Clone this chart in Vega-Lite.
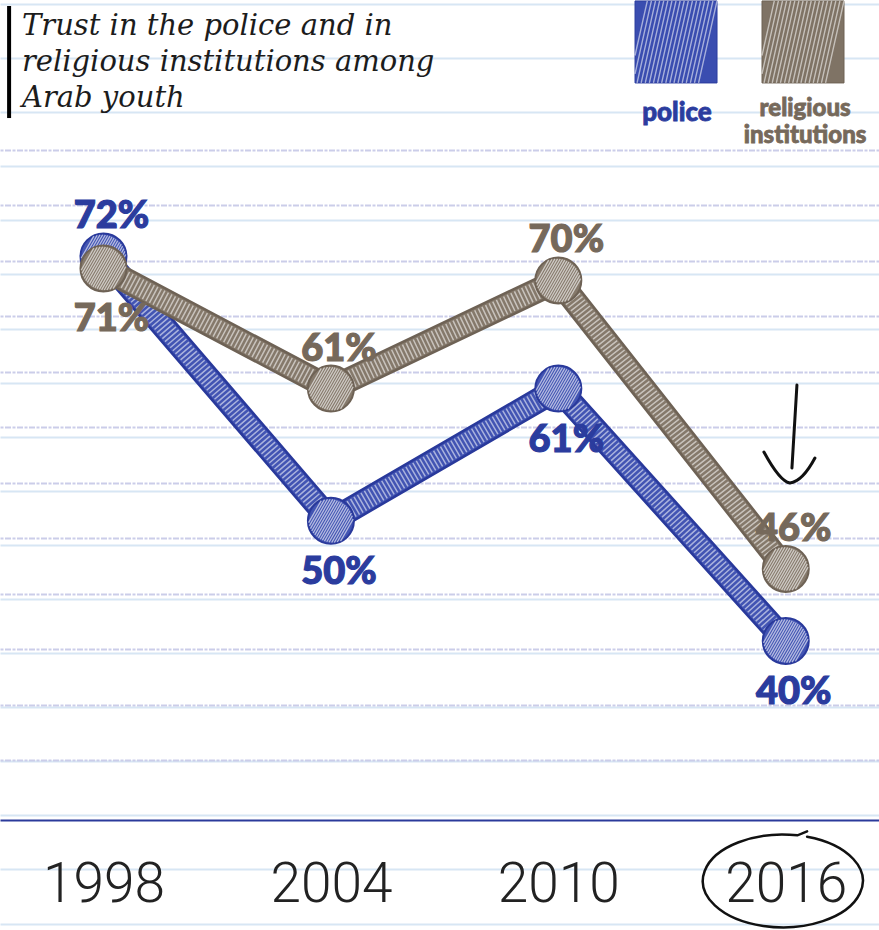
{
  "$schema": "https://vega.github.io/schema/vega-lite/v6.json",
  "width": 879,
  "height": 930,
  "autosize": {"type": "none"},
  "padding": 0,
  "background": "#ffffff",
  "config": {"view": {"stroke": null}},
  "datasets": {
    "trust": [
      {"year": 1998, "series": "police", "value": 72, "label": "72%"},
      {"year": 2004, "series": "police", "value": 50, "label": "50%"},
      {"year": 2010, "series": "police", "value": 61, "label": "61%"},
      {"year": 2016, "series": "police", "value": 40, "label": "40%"},
      {"year": 1998, "series": "religious institutions", "value": 71, "label": "71%"},
      {"year": 2004, "series": "religious institutions", "value": 61, "label": "61%"},
      {"year": 2010, "series": "religious institutions", "value": 70, "label": "70%"},
      {"year": 2016, "series": "religious institutions", "value": 46, "label": "46%"}
    ]
  },
  "data": {"name": "trust"},
  "resolve": {"axis": {"y": "independent"}},
  "layer": [
    {
      "transform": [{"filter": "datum.series == 'police'"}],
      "mark": {"type": "line", "color": "#29399b", "strokeWidth": 25, "strokeJoin": "round", "strokeCap": "round"},
      "encoding": {
        "x": {"field": "year", "type": "quantitative",
          "scale": {"domain": [1995.27, 2018.46], "nice": false, "zero": false},
          "axis": {"orient": "bottom", "offset": -110, "values": [1998, 2004, 2010, 2016], "format": "d", "grid": false, "ticks": false,
            "domain": true, "domainColor": "#2b3a9b", "domainWidth": 2,
            "labelFont": "Roboto", "labelFontSize": 55, "labelFontWeight": 300, "labelColor": "#222222", "labelPadding": 38,
            "labelFlush": false, "labelOverlap": false, "labelBound": false, "title": null}},
        "y": {"field": "value", "type": "quantitative",
          "scale": {"domain": [15.96, 93.33], "nice": false, "zero": false},
          "axis": {"orient": "left", "values": [93, 88.5, 84, 79.5, 75, 70.5, 66, 61.5, 57, 52.5, 48, 43.5, 39, 34.5, 30, 25.5, 21, 16.5],
            "grid": true, "gridColor": "#d7e6f4", "gridWidth": 2, "domain": false, "ticks": false, "labels": false, "title": null}}
      }
    },
    {
      "transform": [{"filter": "datum.series == 'police'"}],
      "mark": {"type": "line", "color": "#4254b3", "strokeWidth": 20, "strokeJoin": "round", "strokeCap": "round"},
      "encoding": {
        "x": {"field": "year", "type": "quantitative"},
        "y": {"field": "value", "type": "quantitative",
          "axis": {"orient": "right", "values": [80.85, 76.24, 71.62, 67.0, 62.39, 57.77, 53.15, 48.54, 43.92, 39.3, 34.68, 30.07],
            "grid": true, "gridColor": "#cbcde9", "gridWidth": 2, "gridDash": [3, 1.5, 6, 1.5], "domain": false, "ticks": false, "labels": false, "title": null}}
      }
    },
    {
      "transform": [{"filter": "datum.series == 'police'"}],
      "mark": {"type": "line", "color": "#ffffff", "strokeWidth": 18, "strokeDash": [1.5, 2.5], "opacity": 0.55, "strokeJoin": "round"},
      "encoding": {
        "x": {"field": "year", "type": "quantitative"},
        "y": {"field": "value", "type": "quantitative", "axis": null}
      }
    },
    {
      "transform": [{"filter": "datum.series == 'police'"}],
      "mark": {"type": "point", "shape": "circle", "size": 2116, "filled": true, "fill": "#4254b3", "stroke": "#29399b", "strokeWidth": 2, "opacity": 1},
      "encoding": {
        "x": {"field": "year", "type": "quantitative"},
        "y": {"field": "value", "type": "quantitative", "axis": null}
      }
    },
    {
      "transform": [{"filter": "datum.series == 'police'"}],
      "mark": {"type": "point", "shape": "M-0.97,0.08L-0.42,-0.88M-0.935,0.219L-0.277,-0.919M-0.89,0.34L-0.15,-0.94M-0.83,0.44L-0.035,-0.94M-0.77,0.53L0.08,-0.93M-0.7,0.61L0.18,-0.91M-0.62,0.68L0.28,-0.88M-0.54,0.74L0.37,-0.84M-0.46,0.8L0.46,-0.8M-0.37,0.84L0.54,-0.74M-0.28,0.88L0.62,-0.68M-0.18,0.91L0.7,-0.61M-0.08,0.93L0.77,-0.53M0.035,0.94L0.83,-0.44M0.15,0.94L0.89,-0.34M0.277,0.919L0.935,-0.219M0.42,0.88L0.97,-0.08",
        "size": 2116, "filled": false, "stroke": "#ffffff", "strokeWidth": 1.3, "opacity": 0.6},
      "encoding": {
        "x": {"field": "year", "type": "quantitative"},
        "y": {"field": "value", "type": "quantitative", "axis": null}
      }
    },
    {
      "transform": [{"filter": "datum.series == 'religious institutions'"}],
      "mark": {"type": "line", "color": "#6e6255", "strokeWidth": 25, "strokeJoin": "round", "strokeCap": "round"},
      "encoding": {
        "x": {"field": "year", "type": "quantitative"},
        "y": {"field": "value", "type": "quantitative", "axis": null}
      }
    },
    {
      "transform": [{"filter": "datum.series == 'religious institutions'"}],
      "mark": {"type": "line", "color": "#85796b", "strokeWidth": 20, "strokeJoin": "round", "strokeCap": "round"},
      "encoding": {
        "x": {"field": "year", "type": "quantitative"},
        "y": {"field": "value", "type": "quantitative", "axis": null}
      }
    },
    {
      "transform": [{"filter": "datum.series == 'religious institutions'"}],
      "mark": {"type": "line", "color": "#ffffff", "strokeWidth": 18, "strokeDash": [1.5, 2.5], "opacity": 0.55, "strokeJoin": "round"},
      "encoding": {
        "x": {"field": "year", "type": "quantitative"},
        "y": {"field": "value", "type": "quantitative", "axis": null}
      }
    },
    {
      "transform": [{"filter": "datum.series == 'religious institutions'"}],
      "mark": {"type": "point", "shape": "circle", "size": 2116, "filled": true, "fill": "#85796b", "stroke": "#6e6255", "strokeWidth": 2, "opacity": 1},
      "encoding": {
        "x": {"field": "year", "type": "quantitative"},
        "y": {"field": "value", "type": "quantitative", "axis": null}
      }
    },
    {
      "transform": [{"filter": "datum.series == 'religious institutions'"}],
      "mark": {"type": "point", "shape": "M-0.97,0.08L-0.42,-0.88M-0.935,0.219L-0.277,-0.919M-0.89,0.34L-0.15,-0.94M-0.83,0.44L-0.035,-0.94M-0.77,0.53L0.08,-0.93M-0.7,0.61L0.18,-0.91M-0.62,0.68L0.28,-0.88M-0.54,0.74L0.37,-0.84M-0.46,0.8L0.46,-0.8M-0.37,0.84L0.54,-0.74M-0.28,0.88L0.62,-0.68M-0.18,0.91L0.7,-0.61M-0.08,0.93L0.77,-0.53M0.035,0.94L0.83,-0.44M0.15,0.94L0.89,-0.34M0.277,0.919L0.935,-0.219M0.42,0.88L0.97,-0.08",
        "size": 2116, "filled": false, "stroke": "#ffffff", "strokeWidth": 1.3, "opacity": 0.6},
      "encoding": {
        "x": {"field": "year", "type": "quantitative"},
        "y": {"field": "value", "type": "quantitative", "axis": null}
      }
    },
    {
      "transform": [{"filter": "(datum.series == 'police') == (datum.year == 1998)"}],
      "mark": {"type": "text", "font": "Lato", "fontSize": 38, "fontWeight": 900, "align": "center", "baseline": "alphabetic", "dx": 8, "dy": -28, "strokeWidth": 1.2},
      "encoding": {
        "x": {"field": "year", "type": "quantitative"},
        "y": {"field": "value", "type": "quantitative", "axis": null},
        "text": {"field": "label", "type": "nominal"},
        "color": {"field": "series", "type": "nominal", "scale": {"domain": ["police", "religious institutions"], "range": ["#2b3c9e", "#76695b"]}, "legend": null},
        "stroke": {"field": "series", "type": "nominal", "scale": {"domain": ["police", "religious institutions"], "range": ["#2b3c9e", "#76695b"]}, "legend": null}
      }
    },
    {
      "transform": [{"filter": "(datum.series == 'police') != (datum.year == 1998)"}],
      "mark": {"type": "text", "font": "Lato", "fontSize": 38, "fontWeight": 900, "align": "center", "baseline": "alphabetic", "dx": 8, "dy": 63, "strokeWidth": 1.2},
      "encoding": {
        "x": {"field": "year", "type": "quantitative"},
        "y": {"field": "value", "type": "quantitative", "axis": null},
        "text": {"field": "label", "type": "nominal"},
        "color": {"field": "series", "type": "nominal", "legend": null},
        "stroke": {"field": "series", "type": "nominal", "legend": null}
      }
    },
    {
      "data": {"values": [{"title": "Trust in the police and in\nreligious institutions among\nArab youth"}]},
      "mark": {"type": "text", "font": "DejaVu Serif", "fontStyle": "italic", "fontSize": 29, "color": "#1c1c1c", "align": "left", "baseline": "alphabetic", "lineBreak": "\n", "lineHeight": 36},
      "encoding": {
        "x": {"datum": 1995.85, "type": "quantitative"},
        "y": {"datum": 90.42, "type": "quantitative", "axis": null},
        "text": {"field": "title", "type": "nominal"}
      }
    },
    {
      "data": {"values": [{"item": "title bar"}]},
      "mark": {"type": "rule", "color": "#000000", "strokeWidth": 4},
      "encoding": {
        "x": {"datum": 1995.51, "type": "quantitative"},
        "y": {"datum": 92.83, "type": "quantitative", "axis": null},
        "y2": {"datum": 83.51}
      }
    },
    {
      "data": {"values": [{"series": "police"}]},
      "mark": {"type": "point", "shape": "square", "size": 6724, "filled": true, "fill": "#3a4db0", "stroke": "#2b3c9e", "strokeWidth": 1, "opacity": 1},
      "encoding": {
        "x": {"datum": 2013.105, "type": "quantitative"},
        "y": {"datum": 89.84, "type": "quantitative", "axis": null}
      }
    },
    {
      "data": {"values": [{"series": "religious institutions"}]},
      "mark": {"type": "point", "shape": "square", "size": 6724, "filled": true, "fill": "#7f7365", "stroke": "#6e6255", "strokeWidth": 1, "opacity": 1},
      "encoding": {
        "x": {"datum": 2016.455, "type": "quantitative"},
        "y": {"datum": 89.84, "type": "quantitative", "axis": null}
      }
    },
    {
      "data": {"values": [{"series": "police"}]},
      "mark": {"type": "point", "shape": "M-0.95,1L-0.5,-1M-0.85,1L-0.4,-1M-0.75,1L-0.3,-1M-0.65,1L-0.2,-1M-0.55,1L-0.1,-1M-0.45,1L0,-1M-0.35,1L0.1,-1M-0.25,1L0.2,-1M-0.15,1L0.3,-1M-0.05,1L0.4,-1M0.05,1L0.5,-1M0.15,1L0.6,-1M0.25,1L0.7,-1M0.35,1L0.8,-1M0.45,1L0.9,-1M0.55,1L1,-1M-1,0.78L-0.6,-1M-1,0.33L-0.7,-1",
        "size": 6724, "filled": false, "stroke": "#ffffff", "strokeWidth": 1.4, "opacity": 0.55},
      "encoding": {
        "x": {"datum": 2013.105, "type": "quantitative"},
        "y": {"datum": 89.84, "type": "quantitative", "axis": null}
      }
    },
    {
      "data": {"values": [{"series": "religious institutions"}]},
      "mark": {"type": "point", "shape": "M-0.95,1L-0.5,-1M-0.85,1L-0.4,-1M-0.75,1L-0.3,-1M-0.65,1L-0.2,-1M-0.55,1L-0.1,-1M-0.45,1L0,-1M-0.35,1L0.1,-1M-0.25,1L0.2,-1M-0.15,1L0.3,-1M-0.05,1L0.4,-1M0.05,1L0.5,-1M0.15,1L0.6,-1M0.25,1L0.7,-1M0.35,1L0.8,-1M0.45,1L0.9,-1M0.55,1L1,-1M-1,0.78L-0.6,-1M-1,0.33L-0.7,-1",
        "size": 6724, "filled": false, "stroke": "#ffffff", "strokeWidth": 1.4, "opacity": 0.55},
      "encoding": {
        "x": {"datum": 2016.455, "type": "quantitative"},
        "y": {"datum": 89.84, "type": "quantitative", "axis": null}
      }
    },
    {
      "data": {"values": [{"series": "police"}]},
      "mark": {"type": "text", "font": "Lato", "fontSize": 26, "fontWeight": 900, "color": "#2b3c9e", "stroke": "#2b3c9e", "strokeWidth": 0.8, "align": "center", "baseline": "alphabetic"},
      "encoding": {
        "x": {"datum": 2013.13, "type": "quantitative"},
        "y": {"datum": 83.26, "type": "quantitative", "axis": null},
        "text": {"field": "series", "type": "nominal"}
      }
    },
    {
      "data": {"values": [{"series": "religious institutions"}]},
      "mark": {"type": "text", "font": "Lato", "fontSize": 24, "fontWeight": 900, "color": "#76695b", "stroke": "#76695b", "strokeWidth": 0.8, "align": "center", "baseline": "alphabetic", "lineBreak": " ", "lineHeight": 27},
      "encoding": {
        "x": {"datum": 2016.51, "type": "quantitative"},
        "y": {"datum": 83.68, "type": "quantitative", "axis": null},
        "text": {"field": "series", "type": "nominal"}
      }
    },
    {
      "data": {"values": [{"note": "arrow to 2016"}]},
      "mark": {"type": "point", "shape": "M0.14,-0.98L0.04,0.68M-0.52,0.36Q-0.2,0.95 0,0.98Q0.25,0.95 0.5,0.48", "size": 10000, "filled": false, "stroke": "#111111", "strokeWidth": 3, "opacity": 1, "strokeCap": "round"},
      "encoding": {
        "x": {"datum": 2016.11, "type": "quantitative"},
        "y": {"datum": 57.22, "type": "quantitative", "axis": null}
      }
    },
    {
      "data": {"values": [{"note": "circled 2016"}]},
      "mark": {"type": "point", "shape": "M0.3,-0.553A1,0.58 0 1,1 0.18,-0.5705L0.3,-0.62", "size": 25600, "filled": false, "stroke": "#111111", "strokeWidth": 2.5, "opacity": 1, "strokeCap": "round"},
      "encoding": {
        "x": {"datum": 2015.93, "type": "quantitative"},
        "y": {"datum": 20.04, "type": "quantitative", "axis": null}
      }
    }
  ]
}
